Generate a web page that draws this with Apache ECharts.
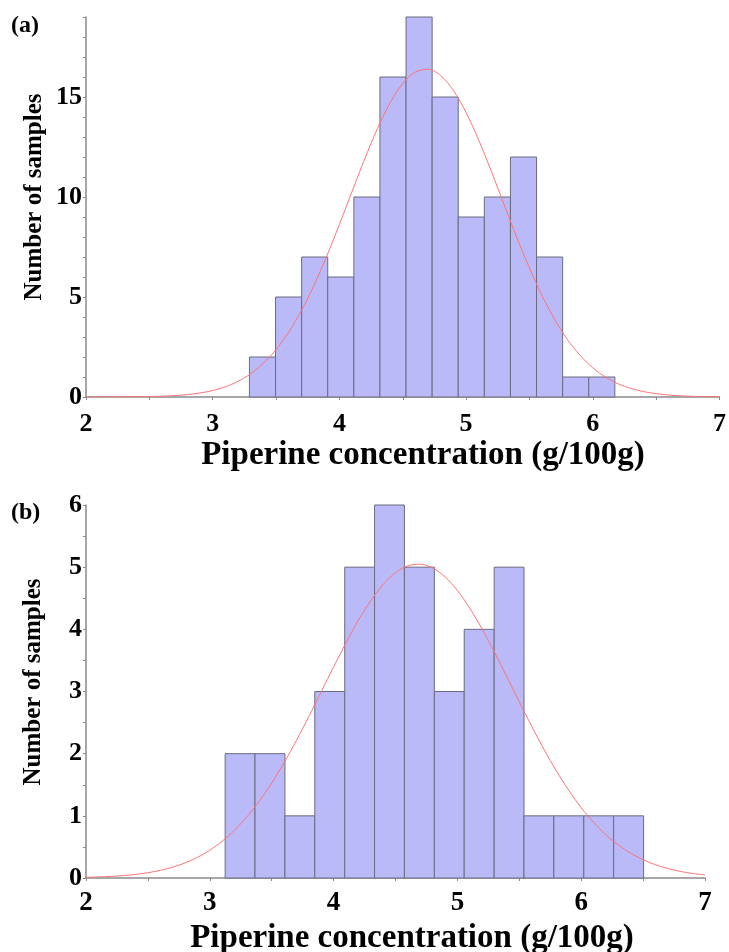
<!DOCTYPE html>
<html>
<head>
<meta charset="utf-8">
<script src="https://cdn.jsdelivr.net/npm/echarts@6/dist/echarts.min.js"></script>
<style>
html,body{margin:0;padding:0;background:#fff;}
#c{width:729px;height:952px;}
</style>
</head>
<body>
<div id="c"></div>
<script>
// ---- Panel (a) ----
const edgesA = [3.29, 3.496, 3.702, 3.908, 4.114, 4.32, 4.526, 4.732, 4.938, 5.144, 5.35, 5.556, 5.762, 5.968, 6.174];
const countsA = [2, 5, 7, 6, 10, 16, 19, 15, 9, 10, 12, 7, 1, 1];
// ---- Panel (b) ----
const edgesB = [3.124, 3.365, 3.607, 3.848, 4.09, 4.331, 4.572, 4.814, 5.055, 5.297, 5.538, 5.779, 6.021, 6.262, 6.504];
const countsB = [2, 2, 1, 3, 5, 6, 5, 3, 4, 5, 1, 1, 1, 1];
// fitted curves (x = 2.0 ... 7.0)
const curveX = [2.0, 2.1, 2.2, 2.3, 2.4, 2.5, 2.6, 2.7, 2.8, 2.9,
                3.0, 3.1, 3.2, 3.3, 3.4, 3.5, 3.6, 3.7, 3.8, 3.9,
                4.0, 4.1, 4.2, 4.3, 4.4, 4.5, 4.6, 4.7, 4.8, 4.9,
                5.0, 5.1, 5.2, 5.3, 5.4, 5.5, 5.6, 5.7, 5.8, 5.9,
                6.0, 6.1, 6.2, 6.3, 6.4, 6.5, 6.6, 6.7, 6.8, 6.9, 7.0];
const curveA = [0.0, 0.002, 0.003, 0.006, 0.012, 0.022, 0.04, 0.071, 0.121, 0.201,
                0.325, 0.512, 0.783, 1.164, 1.685, 2.37, 3.245, 4.32, 5.59, 7.05,
                8.63, 10.28, 11.91, 13.42, 14.71, 15.68, 16.25, 16.39, 16.07, 15.33,
                14.22, 12.84, 11.27, 9.62, 7.98, 6.45, 5.06, 3.87, 2.87, 2.08,
                1.46, 1.0, 0.66, 0.43, 0.27, 0.165, 0.098, 0.057, 0.032, 0.017, 0.009];
const curveB = [0.011, 0.017, 0.026, 0.039, 0.058, 0.085, 0.123, 0.174, 0.243, 0.332,
                0.447, 0.592, 0.77, 0.984, 1.236, 1.527, 1.856, 2.214, 2.598, 2.996,
                3.395, 3.783, 4.144, 4.461, 4.721, 4.912, 5.022, 5.048, 4.988, 4.845,
                4.625, 4.34, 4.003, 3.63, 3.236, 2.833, 2.441, 2.066, 1.72, 1.407,
                1.13, 0.894, 0.694, 0.531, 0.398, 0.294, 0.213, 0.152, 0.106, 0.073, 0.05];
const xTitle = 'Piperine concentration (g/100g)';
const yTitle = 'Number of samples';
const panelLabels = ['(a)', '(b)'];

const SERIF = '"Liberation Serif", "Times New Roman", serif';
const barFill = '#babaf8';
const barStroke = '#6b6b80';
const curveColor = '#ff7373';
const axisColor = '#8a8a8a';

function histData(edges, counts) {
  return counts.map((c, i) => [edges[i], edges[i + 1], c]);
}
function renderBar(params, api) {
  const p0 = api.coord([api.value(0), api.value(2)]);
  const p1 = api.coord([api.value(1), 0]);
  return {
    type: 'rect',
    shape: { x: p0[0], y: p0[1], width: p1[0] - p0[0], height: p1[1] - p0[1] },
    style: { fill: barFill, stroke: barStroke, lineWidth: 1 }
  };
}
function xAxisCfg(gi, fs, margin) {
  return {
    type: 'value', gridIndex: gi, min: 2, max: 7, interval: 0.5,
    axisLine: { show: true, onZero: false, lineStyle: { color: axisColor, width: 1.5 } },
    axisTick: { show: true, length: 3, lineStyle: { color: axisColor } },
    splitLine: { show: false },
    axisLabel: {
      margin: margin, color: '#000', fontFamily: SERIF, fontWeight: 'bold', fontSize: fs,
      formatter: v => (Math.abs(v - Math.round(v)) < 1e-9 ? String(Math.round(v)) : '')
    }
  };
}
function yAxisCfg(gi, max, interval, every) {
  return {
    type: 'value', gridIndex: gi, min: 0, max: max, interval: interval,
    axisLine: { show: true, lineStyle: { color: axisColor, width: 1.5 } },
    axisTick: { show: true, length: 3, lineStyle: { color: axisColor } },
    splitLine: { show: false },
    axisLabel: {
      margin: 4, color: '#000', fontFamily: SERIF, fontWeight: 'bold', fontSize: 26,
      formatter: v => (Math.abs(v / every - Math.round(v / every)) < 1e-9 ? String(Math.round(v)) : '')
    }
  };
}
function txt(text, x, y, size, align, rot) {
  return {
    type: 'text', x: x, y: y, rotation: rot || 0, z: 100,
    style: {
      text: text, font: 'bold ' + size + 'px ' + SERIF, fill: '#000',
      align: align, verticalAlign: 'middle', textAlign: align, textVerticalAlign: 'middle'
    }
  };
}

const chart = echarts.init(document.getElementById('c'), null, { renderer: 'canvas' });
chart.setOption({
  backgroundColor: '#ffffff',
  animation: false,
  grid: [
    { left: 86, top: 17, width: 637, height: 380 },
    { left: 86, top: 505, width: 619, height: 373 }
  ],
  xAxis: [xAxisCfg(0, 26, 14), xAxisCfg(1, 27, 12)],
  yAxis: [yAxisCfg(0, 19, 1, 5), yAxisCfg(1, 6, 0.5, 1)],
  series: [
    { type: 'custom', xAxisIndex: 0, yAxisIndex: 0, renderItem: renderBar,
      encode: { x: [0, 1], y: 2 }, data: histData(edgesA, countsA), z: 2 },
    { type: 'line', xAxisIndex: 0, yAxisIndex: 0, smooth: 0.3, symbol: 'none', z: 5,
      lineStyle: { color: curveColor, width: 1 },
      data: curveX.map((x, i) => [x, curveA[i]]) },
    { type: 'custom', xAxisIndex: 1, yAxisIndex: 1, renderItem: renderBar,
      encode: { x: [0, 1], y: 2 }, data: histData(edgesB, countsB), z: 2 },
    { type: 'line', xAxisIndex: 1, yAxisIndex: 1, smooth: 0.3, symbol: 'none', z: 5,
      lineStyle: { color: curveColor, width: 1 },
      data: curveX.map((x, i) => [x, curveB[i]]) }
  ],
  graphic: [
    txt(panelLabels[0], 11, 26, 24, 'left'),
    txt(panelLabels[1], 11, 513, 24, 'left'),
    txt(yTitle, 35, 197, 25, 'center', Math.PI / 2),
    txt(yTitle, 34, 682, 25, 'center', Math.PI / 2),
    txt(xTitle, 423, 455, 33, 'center'),
    txt(xTitle, 412, 938, 33, 'center')
  ]
});
</script>
</body>
</html>
